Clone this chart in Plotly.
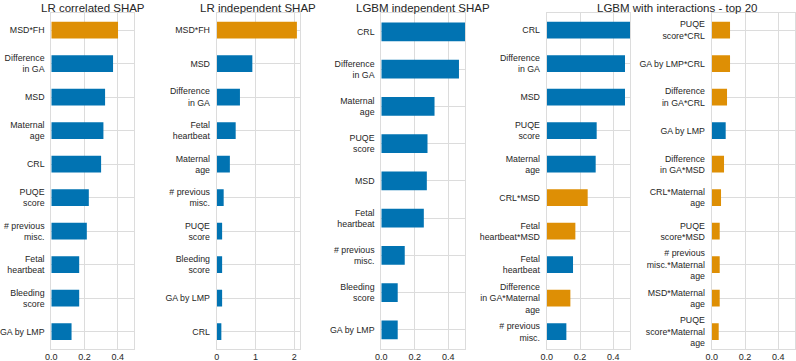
import plotly.graph_objects as go

# ---- data (top-to-bottom order) ----
lr_corr_labels = ["MSD*FH", "Difference\nin GA", "MSD", "Maternal\nage", "CRL", "PUQE\nscore",
                  "# previous\nmisc.", "Fetal\nheartbeat", "Bleeding\nscore", "GA by LMP"]
lr_corr_values = [0.402, 0.372, 0.324, 0.314, 0.300, 0.226, 0.214, 0.168, 0.168, 0.122]

lr_ind_labels = ["MSD*FH", "MSD", "Difference\nin GA", "Fetal\nheartbeat", "Maternal\nage",
                 "# previous\nmisc.", "PUQE\nscore", "Bleeding\nscore", "GA by LMP", "CRL"]
lr_ind_values = [2.07, 0.92, 0.60, 0.49, 0.34, 0.18, 0.14, 0.14, 0.14, 0.12]

lgbm_ind_labels = ["CRL", "Difference\nin GA", "Maternal\nage", "PUQE\nscore", "MSD",
                   "Fetal\nheartbeat", "# previous\nmisc.", "Bleeding\nscore", "GA by LMP"]
lgbm_ind_values = [0.56, 0.464, 0.318, 0.276, 0.272, 0.254, 0.140, 0.098, 0.098]

lgbm_int_a_labels = ["CRL", "Difference\nin GA", "MSD", "PUQE\nscore", "Maternal\nage", "CRL*MSD",
                     "Fetal\nheartbeat*MSD", "Fetal\nheartbeat", "Difference\nin GA*Maternal\nage",
                     "# previous\nmisc."]
lgbm_int_a_values = [0.56, 0.470, 0.470, 0.300, 0.294, 0.246, 0.172, 0.158, 0.142, 0.118]

lgbm_int_b_labels = ["PUQE\nscore*CRL", "GA by LMP*CRL", "Difference\nin GA*CRL", "GA by LMP",
                     "Difference\nin GA*MSD", "CRL*Maternal\nage", "PUQE\nscore*MSD",
                     "# previous\nmisc.*Maternal\nage", "MSD*Maternal\nage", "PUQE\nscore*Maternal\nage"]
lgbm_int_b_values = [0.110, 0.110, 0.092, 0.084, 0.074, 0.056, 0.048, 0.048, 0.048, 0.042]

titles = ["LR correlated SHAP", "LR independent SHAP", "LGBM independent SHAP"]
title_int = "LGBM with interactions - top 20"

BLUE = "#0173b2"
ORANGE = "#de8f05"
GRID = "#dcdcdc"
TEXT = "#262626"
FONT = "Liberation Sans, Arial, sans-serif"

W, H = 796, 361
panels = [
    (lr_corr_labels, lr_corr_values, 51.3, 134.3, [0, 0.5], 0.2),
    (lr_ind_labels, lr_ind_values, 216.7, 300.0, [0, 2.15], 1),
    (lgbm_ind_labels, lgbm_ind_values, 381.3, 465.0, [0, 0.5], 0.2),
    (lgbm_int_a_labels, lgbm_int_a_values, 546.7, 630.0, [0, 0.5], 0.2),
    (lgbm_int_b_labels, lgbm_int_b_values, 711.7, 795.0, [0, 0.5], 0.2),
]
top_px, bot_px = 13.3, 348.5

fig = go.Figure()
layout = dict(
    width=W, height=H, margin=dict(l=0, r=0, t=0, b=0),
    paper_bgcolor="white", plot_bgcolor="white", showlegend=False,
    font=dict(family=FONT, color=TEXT, size=9),
)
for i, (labs, vals, x0, x1, xr, dt) in enumerate(panels):
    k = "" if i == 0 else str(i + 1)
    ylabs = [l.replace("\n", "<br>") for l in labs]
    colors = [ORANGE if "*" in l else BLUE for l in labs]
    fig.add_trace(go.Bar(
        x=vals, y=ylabs, orientation="h", xaxis="x" + k, yaxis="y" + k,
        marker=dict(color=colors, line=dict(width=0)), width=0.5,
        hoverinfo="x+y",
    ))
    n = len(labs)
    layout["xaxis" + k] = dict(
        domain=[x0 / W, x1 / W], anchor="y" + k, range=xr, dtick=dt,
        tickformat=".1f" if dt < 1 else "d",
        showgrid=True, gridcolor=GRID, gridwidth=1, zeroline=False,
        showline=True, linecolor=GRID, linewidth=1, mirror=True,
        ticks="", ticklen=0, tickfont=dict(size=9, color=TEXT), automargin=False,
        ticklabelstandoff=0, fixedrange=True,
    )
    layout["yaxis" + k] = dict(
        domain=[1 - bot_px / H, 1 - top_px / H], anchor="x" + k,
        type="category", categoryorder="array", categoryarray=ylabs,
        range=[n - 0.5, -0.5],
        showgrid=True, gridcolor=GRID, gridwidth=1, zeroline=False,
        showline=True, linecolor=GRID, linewidth=1, mirror=True,
        ticks="", tickfont=dict(size=8.8, color=TEXT), automargin=False,
        ticklabelstandoff=4, fixedrange=True,
    )

annotations = []
for i, t in enumerate(titles):
    _, _, x0, x1, _, _ = panels[i]
    annotations.append(dict(text=t, x=(x0 + x1) / 2 / W, y=1 - 8 / H, xref="paper", yref="paper",
                            xanchor="center", yanchor="middle", showarrow=False,
                            font=dict(size=11.5, color=TEXT, family=FONT)))
annotations.append(dict(text=title_int, x=676.5 / W, y=1 - 8 / H,
                        xref="paper", yref="paper", xanchor="center", yanchor="middle",
                        showarrow=False, font=dict(size=11.5, color=TEXT, family=FONT)))
layout["annotations"] = annotations
fig.update_layout(**layout)
fig.write_html("out.html", config={"displayModeBar": False},
               post_script="document.body.style.margin='0';document.body.style.overflow='hidden';")
